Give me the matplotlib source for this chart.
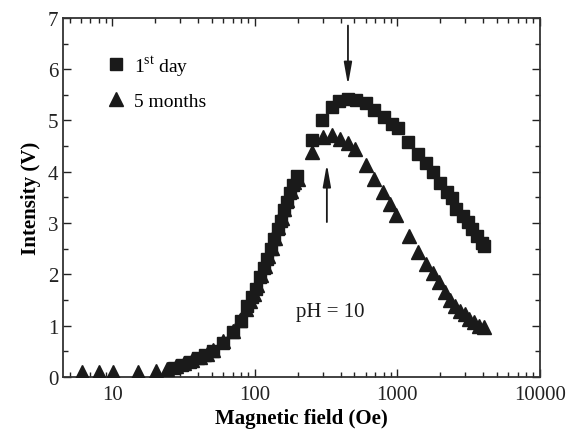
import matplotlib
matplotlib.use("Agg")
import matplotlib.pyplot as plt
from matplotlib.ticker import MultipleLocator, LogLocator, NullFormatter, FixedLocator

plt.rcParams['font.family'] = ['Liberation Serif', 'DejaVu Serif']
plt.rcParams['mathtext.fontset'] = 'custom'
plt.rcParams['mathtext.rm'] = 'Liberation Serif'

# 1st day (squares)
day1_x = [27, 31, 35, 40, 45, 51, 60, 70, 80, 88, 95, 101, 108, 115, 122, 130, 137, 145, 152, 160,
          168, 176, 185, 196, 250, 297, 347, 392, 452, 510, 600, 690, 800, 910, 1013, 1190, 1390,
          1600, 1790, 1990, 2220, 2410, 2600, 2900, 3150, 3330, 3610, 3930, 4030]
day1_y = [0.18, 0.24, 0.30, 0.37, 0.43, 0.50, 0.66, 0.88, 1.10, 1.38, 1.55, 1.72, 1.95, 2.12, 2.30,
          2.50, 2.68, 2.88, 3.05, 3.25, 3.42, 3.58, 3.75, 3.92, 4.61, 5.01, 5.27, 5.37, 5.42, 5.40,
          5.35, 5.21, 5.07, 4.94, 4.85, 4.59, 4.35, 4.18, 3.99, 3.78, 3.60, 3.48, 3.27, 3.14, 3.02,
          2.88, 2.75, 2.62, 2.56]

# 5 months (triangles)
m5_x = [6.1, 8.0, 10.1, 15.1, 20.2, 24, 28, 32, 36, 41, 46, 51, 60, 70, 79, 86, 92, 98, 104, 110,
        117, 124, 131, 138, 146, 154, 161, 169, 178, 188, 200, 250, 302, 345, 397, 452, 502, 601,
        690, 795, 885, 986, 1200, 1390, 1580, 1790, 1970, 2150, 2340, 2520, 2730, 2960, 3200,
        3470, 3750, 4070]
m5_y = [0.10, 0.10, 0.10, 0.10, 0.12, 0.16, 0.22, 0.27, 0.33, 0.39, 0.45, 0.52, 0.70, 0.90, 1.12,
        1.32, 1.48, 1.62, 1.80, 1.98, 2.16, 2.35, 2.52, 2.70, 2.92, 3.10, 3.28, 3.45, 3.62, 3.80,
        3.86, 4.38, 4.68, 4.72, 4.64, 4.56, 4.44, 4.13, 3.86, 3.60, 3.37, 3.16, 2.75, 2.43, 2.20,
        2.03, 1.85, 1.65, 1.51, 1.38, 1.29, 1.23, 1.13, 1.07, 1.00, 0.97]

x_ticks = [10, 100, 1000, 10000]
x_tick_labels = ['10', '100', '1000', '10000']

fig = plt.figure(figsize=(5.78, 4.39), dpi=100)
ax = fig.add_axes([0.109, 0.139, 0.825, 0.818])
col = '#1a1a1a'
ax.plot(day1_x, day1_y, 's', color=col, markersize=8.3, label='1$^{\\rm st}$ day', zorder=3)
ax.plot(m5_x, m5_y, '^', color=col, markersize=9.5, label='5 months', zorder=3)

ax.set_xscale('log')
ax.set_xlim(4.5, 10000)
ax.set_ylim(0, 7)
ax.xaxis.set_major_locator(FixedLocator(x_ticks))
ax.set_xticklabels(x_tick_labels)
ax.xaxis.set_minor_locator(LogLocator(base=10, subs=range(2, 10), numticks=20))
ax.xaxis.set_minor_formatter(NullFormatter())
ax.yaxis.set_major_locator(MultipleLocator(1))
ax.yaxis.set_minor_locator(MultipleLocator(0.5))

ax.tick_params(which='both', direction='in', top=True, right=True, labelsize=15, colors='#222222')
ax.tick_params(which='major', length=6, width=1)
ax.tick_params(which='minor', length=3.5, width=1)
ax.tick_params(axis='x', pad=6)
for s in ax.spines.values():
    s.set_linewidth(1.3)
    s.set_color('#333333')

ax.set_xlabel('Magnetic field (Oe)', fontsize=15, fontweight='bold', labelpad=3)
ax.set_ylabel('Intensity (V)', fontsize=15, fontweight='bold', labelpad=5)

ax.annotate('', xy=(450, 5.69), xytext=(450, 6.85),
            arrowprops=dict(arrowstyle='-|>,head_length=0.95,head_width=0.17', color=col, lw=1.3,
                            mutation_scale=14, shrinkA=0, shrinkB=0))
ax.annotate('', xy=(320, 4.15), xytext=(320, 3.02),
            arrowprops=dict(arrowstyle='-|>,head_length=0.95,head_width=0.17', color=col, lw=1.3,
                            mutation_scale=14, shrinkA=0, shrinkB=0))

ax.text(336, 1.27, 'pH = 10', fontsize=15, ha='center', va='center', color=col)

ax.legend(loc='upper left', frameon=False, fontsize=14, bbox_to_anchor=(0.075, 0.925),
          handletextpad=0.4, labelspacing=0.75, borderaxespad=0, handlelength=1.0)

fig.savefig('out.png', dpi=100)
